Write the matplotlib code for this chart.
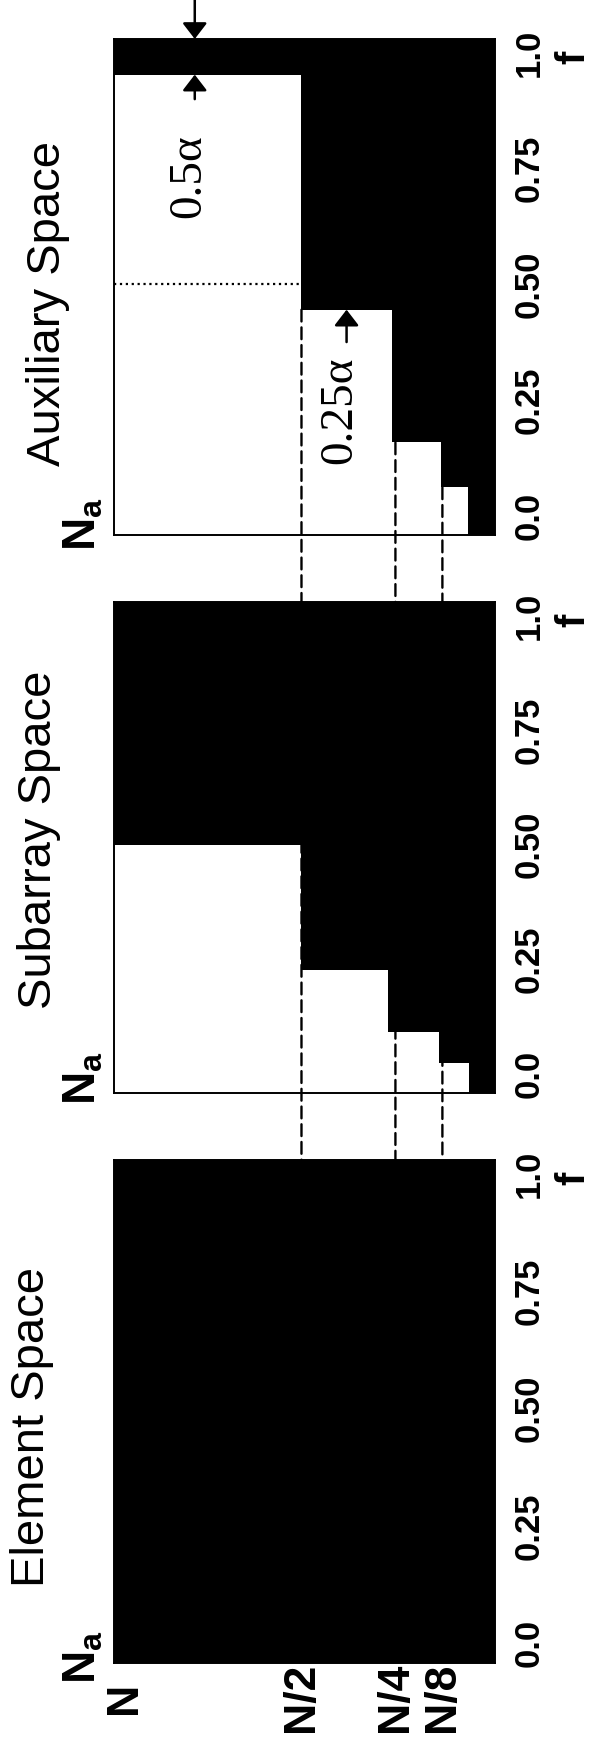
import matplotlib
matplotlib.use('Agg')
import matplotlib.pyplot as plt
from matplotlib.patches import ConnectionPatch
from matplotlib.transforms import blended_transform_factory, ScaledTranslation

plt.rcParams['font.family'] = ['Liberation Sans', 'DejaVu Sans']
plt.rcParams['mathtext.fontset'] = 'custom'
plt.rcParams['mathtext.rm'] = 'Liberation Sans'
plt.rcParams['mathtext.bf'] = 'Liberation Sans:bold'

# ---------------- data ----------------
N = 1.0
panel_titles = ['Auxiliary Space', 'Subarray Space', 'Element Space']
f_ticks = [0.0, 0.25, 0.50, 0.75, 1.0]
f_tick_labels = ['0.0', '0.25', '0.50', '0.75', '1.0']
na_ticks = [N, N / 2, N / 4, N / 8]
na_tick_labels = ['N', 'N/2', 'N/4', 'N/8']

# f values where the occupied (black) Na level changes, and the level in each band (low f -> high f)
aux_f_steps = [0.061, 0.158, 0.445, 0.953]
aux_levels = [0.056, 0.13, 0.258, 0.5, 1.0]
sub_f_steps = [0.024, 0.091, 0.227, 0.5]
sub_levels = [0.055, 0.135, 0.27, 0.5, 1.0]
elem_f_steps = []
elem_levels = [1.0]

# ---------------- layout ----------------
W, H = 594, 1742
fig = plt.figure(figsize=(W / 100, H / 100), dpi=100)

F_LO, F_HI = -0.042, 1.03
NA_RIGHT = -0.015

def ax_rect(top, bottom, left=113.6, right=495.0):
    return [left / W, (H - bottom) / H, (right - left) / W, (bottom - top) / H]

ax_aux = fig.add_axes(ax_rect(39, 535))
ax_sub = fig.add_axes(ax_rect(602, 1093))
ax_el = fig.add_axes(ax_rect(1160, 1663))
axes = [ax_aux, ax_sub, ax_el]
steps = [aux_f_steps, sub_f_steps, elem_f_steps]
levels = [aux_levels, sub_levels, elem_levels]
na_label_y = [0.022, 0.031, 0.012]

for ax, st, lv, nay in zip(axes, steps, levels, na_label_y):
    edges = [F_LO] + list(st) + [F_HI]
    lows = edges[:-1]
    heights = [edges[i + 1] - edges[i] for i in range(len(lv))]
    ax.barh(lows, [l - NA_RIGHT for l in lv], left=NA_RIGHT, height=heights,
            align='edge', color='black', linewidth=0)
    ax.set_xlim(N, NA_RIGHT)
    ax.set_ylim(F_LO, F_HI)
    for s in ax.spines.values():
        s.set_linewidth(1.4)
        s.set_color('black')
    ax.yaxis.tick_right()
    ax.set_yticks(f_ticks)
    ax.set_yticklabels(f_tick_labels, rotation=90, fontweight='bold',
                       fontsize=25, va='center', ha='left')
    ax.tick_params(axis='y', length=0, pad=13)
    ax.tick_params(axis='x', length=0)
    ax.set_xticks([])
    tr = blended_transform_factory(ax.transAxes, ax.transData)
    ax.text(1.205, 0.99, 'f', transform=tr, rotation=90, fontweight='bold',
            fontsize=29, ha='center', va='center')
    ax.text(-0.078, nay, r'$\mathbf{N}_{\mathbf{a}}$', transform=ax.transAxes,
            rotation=90, fontsize=33, ha='center', va='center')

# Na tick labels on the element panel
ax_el.set_xticks(na_ticks)
ax_el.set_xticklabels(na_tick_labels, rotation=90, fontweight='bold',
                      fontsize=32, va='center', ha='center')
ax_el.tick_params(axis='x', length=0, pad=25)
lab0 = ax_el.get_xticklabels()[0]
lab0.set_transform(lab0.get_transform() + ScaledTranslation(0.11, 0, fig.dpi_scale_trans))

# titles
title_pos = [(48, 303), (39, 840), (32, 1427)]
for t, (px, py) in zip(panel_titles, title_pos):
    fig.text(px / W, 1 - py / H, t, rotation=90, fontsize=34,
             ha='center', va='center')

# dashed guide lines from the auxiliary staircase down to the element panel
aux_edges = [F_LO] + aux_f_steps + [F_HI]
for v in na_ticks[1:]:
    start = min(aux_edges[i] for i, l in enumerate(aux_levels) if l >= v)
    con = ConnectionPatch(xyA=(v, start), coordsA=ax_aux.transData,
                          xyB=(v, F_HI), coordsB=ax_el.transData,
                          linestyle=(0, (5, 2.5)), linewidth=1.7, color='black')
    fig.add_artist(con)

# dotted line at f = 0.5 in the auxiliary panel
ax_aux.plot([N, N / 2], [f_ticks[2], f_ticks[2]], linestyle=':', color='black',
            linewidth=1.6)

# annotations in the auxiliary panel
serif = ['Liberation Serif', 'DejaVu Serif']
arrow_kw = dict(arrowstyle='-|>,head_length=0.65,head_width=0.5',
                mutation_scale=15, color='black', linewidth=1.8,
                shrinkA=0, shrinkB=0)
ax_aux.annotate('', xy=(0.784, F_HI), xytext=(0.784, 1.117),
                arrowprops=arrow_kw, annotation_clip=False)
ax_aux.annotate('', xy=(0.784, aux_f_steps[3]), xytext=(0.784, 0.90),
                arrowprops=arrow_kw, annotation_clip=False)
ax_aux.text(0.80, 0.733, '0.5α', rotation=90, family=serif, fontsize=34,
            ha='center', va='center')
ax_aux.annotate('', xy=(0.38, aux_f_steps[2]), xytext=(0.38, 0.375),
                arrowprops=arrow_kw, annotation_clip=False)
ax_aux.text(0.398, 0.228, '0.25α', rotation=90, family=serif, fontsize=34,
            ha='center', va='center')

fig.savefig('out.png', dpi=100)
